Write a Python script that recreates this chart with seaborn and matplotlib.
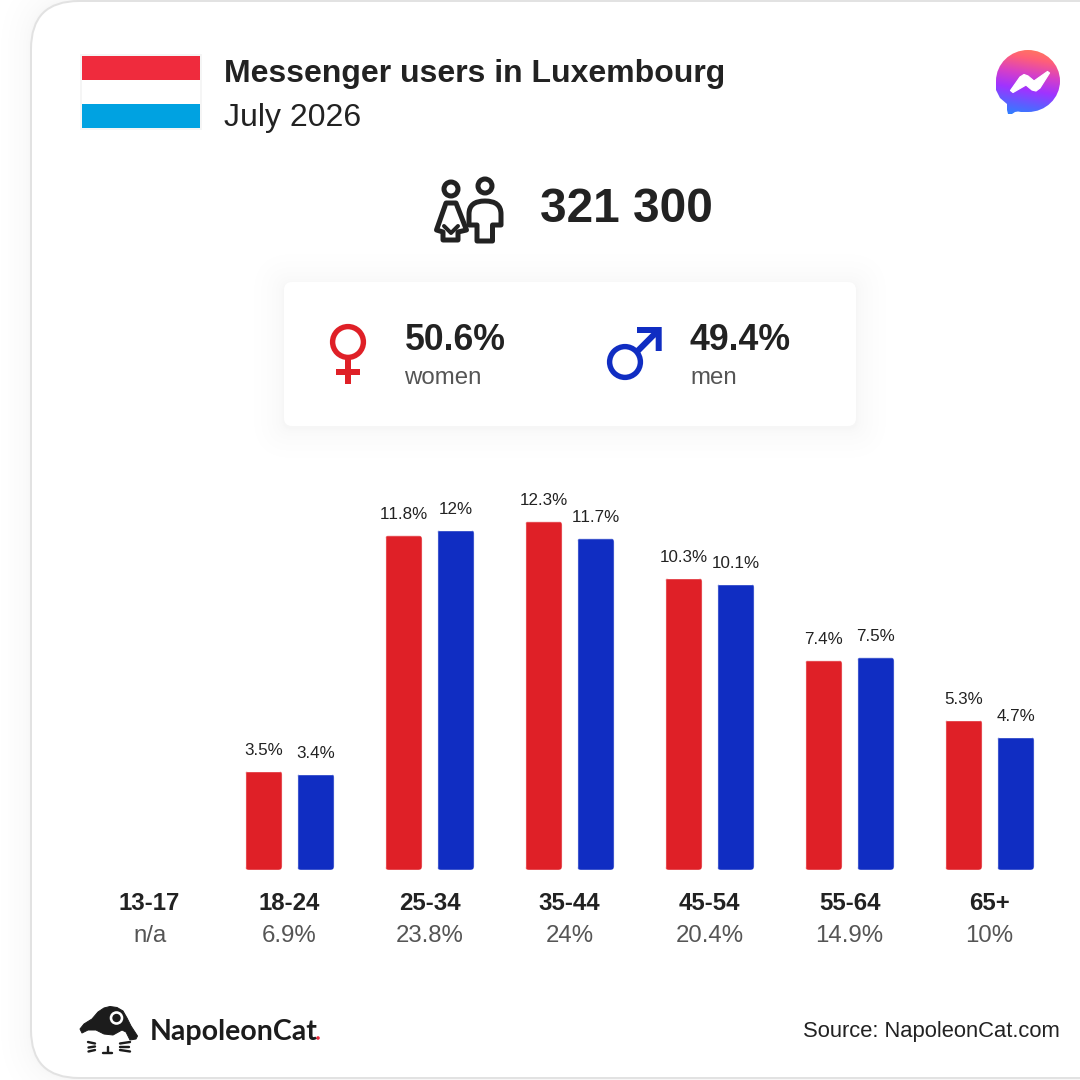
import numpy as np
import pandas as pd
import matplotlib
matplotlib.use("Agg")
import matplotlib.pyplot as plt
from matplotlib.patches import FancyBboxPatch, Rectangle, Circle, Polygon, PathPatch
from matplotlib.path import Path
from matplotlib.colors import LinearSegmentedColormap
import seaborn as sns

age_groups = ["13-17", "18-24", "25-34", "35-44", "45-54", "55-64", "65+"]
women_pct = [np.nan, 3.5, 11.8, 12.3, 10.3, 7.4, 5.3]
men_pct = [np.nan, 3.4, 12.0, 11.7, 10.1, 7.5, 4.7]
group_totals = ["n/a", "6.9%", "23.8%", "24%", "20.4%", "14.9%", "10%"]
title = "Messenger users in Luxembourg"
subtitle = "July 2026"
total_users = "321 300"
women_share = "50.6%"
men_share = "49.4%"
source = "Source: NapoleonCat.com"

RED = "#df2027"
BLUE = "#102dc2"
INK = "#222222"
GREY = "#555555"
PX = 0.72  # points per pixel at dpi 100

sns.set_theme(style="white")
plt.rcParams["font.family"] = ["Liberation Sans", "DejaVu Sans"]
plt.rcParams["text.kerning_factor"] = 6

fig = plt.figure(figsize=(10.8, 10.8), dpi=100, facecolor="white")

# ---------- pixel-space layer for the card, header and icons
bg = fig.add_axes([0, 0, 1, 1], zorder=0)
bg.set_xlim(0, 1080)
bg.set_ylim(1080, 0)
bg.axis("off")


def round_rect(x, y, w, h, r, **kw):
    p = FancyBboxPatch((x, y), w, h, boxstyle=f"round,pad=0,rounding_size={r}", **kw)
    bg.add_patch(p)
    return p


SOFT = [30, 23, 17, 12, 8, 5, 3, 2, 1]

# outer card shadow and border
for d in SOFT:
    round_rect(31 - d, 1 - d, 1300 + d, 1077 + 2 * d, 48 + d, fc="black", ec="none", alpha=0.004)
round_rect(31, 1, 1300, 1077, 48, fc="white", ec="#e2e2e2", lw=2 * PX)

# flag
bg.add_patch(Rectangle((81, 55), 120, 74, fc="white", ec="#f5f5f5", lw=2 * PX))
bg.add_patch(Rectangle((82, 56), 118, 24, fc="#ef2b3d", ec="none"))
bg.add_patch(Rectangle((82, 104), 118, 24, fc="#00a2e1", ec="none"))

bg.text(224, 74, title, fontsize=32 * PX, fontweight="bold", color=INK, va="center", ha="left")
bg.text(224, 118, subtitle, fontsize=32 * PX, color=INK, va="center", ha="left")

# messenger icon
cmap = LinearSegmentedColormap.from_list(
    "msg", ["#1e8cff", "#5a60ff", "#a033ff", "#d63fc8", "#ff5f78", "#ff8450"])
yy, xx = np.mgrid[0:1:200j, 0:1:200j]
grad = (1 - yy) * 0.85 + xx * 0.15
im = bg.imshow(grad, extent=(994, 1062, 116, 48), origin="upper", cmap=cmap, aspect="auto", zorder=2)
k = 0.5523
cx, cy, rx, ry = 1028, 81, 32, 31
bubble = Path(
    [(cx + rx, cy), (cx + rx, cy + k * ry), (cx + k * rx, cy + ry), (cx, cy + ry),
     (1021, 112), (1018, 111.5), (1015, 112), (1012, 114), (1008, 114), (1007, 110), (1007, 104),
     (1000, 98), (996, 90), (cx - rx, cy),
     (cx - rx, cy - k * ry), (cx - k * rx, cy - ry), (cx, cy - ry),
     (cx + k * rx, cy - ry), (cx + rx, cy - k * ry), (cx + rx, cy), (cx + rx, cy)],
    [Path.MOVETO, Path.CURVE4, Path.CURVE4, Path.CURVE4,
     Path.LINETO, Path.LINETO, Path.LINETO, Path.LINETO, Path.LINETO, Path.LINETO, Path.LINETO,
     Path.LINETO, Path.LINETO, Path.LINETO,
     Path.CURVE4, Path.CURVE4, Path.CURVE4, Path.CURVE4, Path.CURVE4, Path.CURVE4, Path.CLOSEPOLY])
clip = PathPatch(bubble, transform=bg.transData, fc="none", ec="none")
bg.add_patch(clip)
im.set_clip_path(clip)
bg.add_patch(Polygon([(1010.5, 90.5), (1020, 77), (1024, 74.5), (1028, 76), (1034, 81), (1047.5, 71.5),
                      (1049.5, 73), (1040, 88), (1036, 91), (1032, 90), (1026, 85), (1013, 92.5)],
                     closed=True, fc="white", ec="white", lw=1.2 * PX, joinstyle="round", zorder=3))

# people icon and total
ic = dict(fc="none", ec=INK, lw=5 * PX, joinstyle="round", capstyle="round")
bg.add_patch(Circle((451, 189), 7, **ic))
bg.add_patch(Circle((485, 186), 7, **ic))
bg.add_patch(Polygon([(446, 203), (456, 203), (466.5, 230), (458, 232), (458, 240), (443, 240),
                      (443, 232), (436.5, 230)], closed=True, **ic))
bg.plot([444, 451, 458], [226, 233, 226], color=INK, lw=4 * PX, solid_capstyle="round")
man = Path([(469, 225), (469, 214), (469, 201), (485, 201), (501, 201), (501, 214), (501, 225), (492.5, 225),
            (492.5, 241), (477, 241), (477, 225), (469, 225)],
           [Path.MOVETO, Path.LINETO, Path.CURVE3, Path.CURVE3, Path.CURVE3, Path.CURVE3, Path.LINETO,
            Path.LINETO, Path.LINETO, Path.LINETO, Path.LINETO, Path.CLOSEPOLY])
bg.add_patch(PathPatch(man, **ic))
bg.text(540, 209, total_users, fontsize=47.7 * PX, fontweight="bold", color=INK, va="center", ha="left")

# gender card with soft shadow
for d in SOFT:
    round_rect(284 - d, 284 - d, 572 + 2 * d, 144 + 2 * d, 8 + d, fc="black", ec="none", alpha=0.005)
round_rect(284, 282, 572, 144, 8, fc="white", ec="none")

# female symbol
bg.add_patch(Circle((348, 342), 15.4, fc="none", ec=RED, lw=5.4 * PX))
bg.add_patch(Rectangle((345, 358), 6, 26, fc=RED, ec="none"))
bg.add_patch(Rectangle((336, 369), 24, 6, fc=RED, ec="none"))
# male symbol
bg.add_patch(Circle((625, 362), 15.4, fc="none", ec=BLUE, lw=5.4 * PX))
bg.add_patch(Polygon([(637, 327), (661.7, 327), (661.7, 351), (655.7, 351), (655.7, 337.2), (638, 355),
                      (633.5, 350.8), (651.3, 333), (637, 333)], closed=True, fc=BLUE, ec="none"))

bg.text(405, 340, women_share, fontsize=35.6 * PX, fontweight="bold", color=INK, va="center", ha="left")
bg.text(404, 378, "women", fontsize=24 * PX, color=GREY, va="center", ha="left")
bg.text(690, 340, men_share, fontsize=35.6 * PX, fontweight="bold", color=INK, va="center", ha="left")
bg.text(690, 378, "men", fontsize=24 * PX, color=GREY, va="center", ha="left")

# logo
bg.add_patch(Polygon([(80, 1029), (84, 1024), (92, 1019), (98, 1012), (104, 1008), (110, 1006.5), (117, 1007.5),
                      (123, 1011), (127, 1018), (131, 1026), (137.5, 1036), (136, 1039), (130, 1040), (126, 1032),
                      (122, 1030), (113, 1035), (104, 1034), (96, 1030), (88, 1030), (82, 1033)],
                     closed=True, fc="#1c1c1c", ec="#1c1c1c", lw=1 * PX, joinstyle="round"))
bg.add_patch(Circle((116.5, 1018), 5.5, fc="#1c1c1c", ec="white", lw=2.6 * PX))
for seg in [((88, 95), (1042, 1043.5)), ((88.5, 95), (1047.5, 1046.5)), ((88.5, 95), (1051.5, 1050)),
            ((120, 130), (1043.5, 1042)), ((120, 129), (1046.5, 1046.5)), ((120, 130), (1050, 1051.5)),
            ((107.5, 107.5), (1047, 1052)), ((103, 112), (1052.5, 1052.5))]:
    bg.plot(seg[0], seg[1], color="#1c1c1c", lw=2.4 * PX, solid_capstyle="round")
bg.text(150, 1032, "NapoleonCat", family="Lato", fontweight="bold", fontsize=28.5 * PX,
        color="#1c1c1c", va="center", ha="left")
bg.add_patch(Circle((318, 1038), 1.8, fc="#ef2b3d", ec="none"))
bg.text(1060, 1032, source, fontsize=22 * PX, color=INK, va="center", ha="right")

# ---------- bar chart
ax = fig.add_axes([79.6 / 1080, (1080 - 870) / 1080, 980 / 1080, 400 / 1080], zorder=1)
ax.patch.set_alpha(0)
df = pd.DataFrame({
    "age": age_groups * 2,
    "share": women_pct + men_pct,
    "sex": ["women"] * len(age_groups) + ["men"] * len(age_groups),
})
sns.barplot(data=df, x="age", y="share", hue="sex", order=age_groups, hue_order=["women", "men"],
            palette={"women": RED, "men": BLUE}, width=0.743, gap=0.2885, saturation=1,
            legend=False, ax=ax, errorbar=None)
ax.set_xlim(-0.5, 6.5)
ax.set_ylim(0, 400 / 28.35)
ax.set_xlabel("")
ax.set_ylabel("")
ax.set_yticks([])
ax.tick_params(axis="x", length=0, pad=22 * PX, labelsize=24 * PX, labelcolor=INK)
for lab in ax.get_xticklabels():
    lab.set_fontweight("bold")
sns.despine(ax=ax, left=True, bottom=True)

aspect = (1 / 28.35) / (1 / 140)
for container, vals in zip(ax.containers, (women_pct, men_pct)):
    shown = [v for v in vals if not np.isnan(v)]
    ax.bar_label(container, labels=[f"{v:g}%" for v in shown], padding=13 * PX,
                 fontsize=17 * PX, color=INK)
    for bar in container:
        rounded = FancyBboxPatch((bar.get_x(), bar.get_y()), bar.get_width(), bar.get_height(),
                                 boxstyle="round,pad=0,rounding_size=0.029", mutation_aspect=aspect,
                                 transform=ax.transData, fc="none", ec="none")
        bar.set_clip_path(rounded)

for i, total in enumerate(group_totals):
    ax.annotate(total, (i, 0), xytext=(0, -66 * PX), textcoords="offset points", ha="center", va="center",
                fontsize=24 * PX, color=GREY, annotation_clip=False)

fig.savefig("out.png", dpi=100, facecolor="white")
